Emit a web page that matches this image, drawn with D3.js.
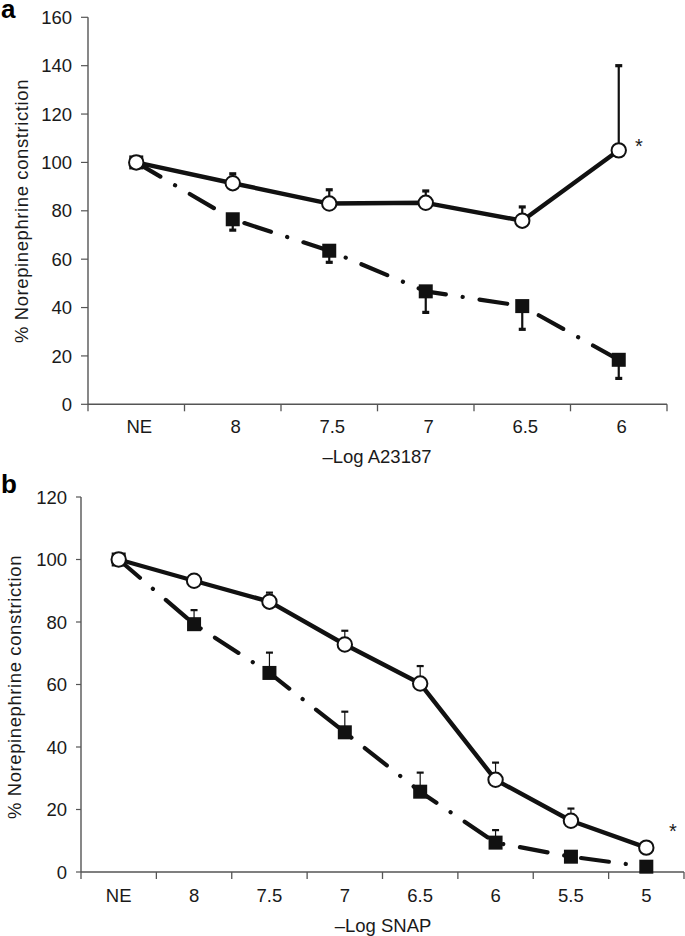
<!DOCTYPE html>
<html><head><meta charset="utf-8">
<script src="https://cdn.jsdelivr.net/npm/d3@7"></script>
<style>body{margin:0;background:#fff}svg{display:block}text{font-family:"Liberation Sans",Arial,sans-serif;fill:#1a1a1a}</style>
</head><body><svg id="c" width="685" height="936"></svg>
<script>
// Panel a data
const catsA = ["NE","8","7.5","7","6.5","6"];
const aCircle = [100, 91.4, 83, 83.3, 75.9, 105];
const aCircleErr = [null, 95.3, 88.7, 88.2, 81.6, 140];
const aSquare = [100, 76.5, 63.5, 46.7, 40.6, 18.4];
const aSquareErr = [null, 72, 58.7, 38, 31, 10.7];
const aTicks = [0,20,40,60,80,100,120,140,160];
// Panel b data
const catsB = ["NE","8","7.5","7","6.5","6","5.5","5"];
const bCircle = [100, 93.2, 86.5, 72.8, 60.3, 29.5, 16.4, 7.8];
const bCircleErr = [null, null, 89.4, 77.2, 65.9, 35, 20.3, null];
const bSquare = [100, 79.3, 63.7, 44.7, 25.7, 9.4, 4.9, 1.7];
const bSquareErr = [null, 83.8, 70.2, 51.3, 31.8, 13.4, null, null];
const bTicks = [0,20,40,60,80,100,120];

const svg = d3.select("#c");

function panel(o){
  const g = svg.append("g");
  const x = d3.scaleBand().domain(o.cats).range(o.xr).paddingInner(0).paddingOuter(0);
  const y = d3.scaleLinear().domain(o.yd).range(o.yr);
  const cx = c => x(c) + x.bandwidth()/2;
  const ax = "#555";
  // y axis
  g.append("line").attr("x1",o.xr[0]).attr("x2",o.xr[0]).attr("y1",o.yr[1]).attr("y2",o.yr[0])
    .attr("stroke",ax).attr("stroke-width",1.4);
  o.yticks.forEach(t=>{
    g.append("line").attr("x1",o.xr[0]-o.yTickLen).attr("x2",o.xr[0]).attr("y1",y(t)).attr("y2",y(t)).attr("stroke",ax).attr("stroke-width",1.2);
    g.append("text").attr("x",o.yLabelX).attr("y",y(t)).attr("dy","0.36em").attr("text-anchor","end")
      .attr("font-size",o.fs).text(t);
  });
  // x axis
  g.append("line").attr("x1",o.xr[0]).attr("x2",o.xr[1]).attr("y1",y(0)).attr("y2",y(0))
    .attr("stroke",ax).attr("stroke-width",1.4);
  const bounds = o.cats.map(c=>x(c)).concat([o.xr[1]]);
  bounds.forEach(b=>{
    g.append("line").attr("x1",b).attr("x2",b).attr("y1",y(0)).attr("y2",y(0)+o.xTickLen).attr("stroke",ax).attr("stroke-width",1.3);
  });
  o.cats.forEach(c=>{
    g.append("text").attr("x",cx(c)+o.xLabelDx).attr("y",o.xLabelY).attr("text-anchor","middle").attr("font-size",o.fs).text(c);
  });
  g.append("text").attr("x",o.titleX).attr("y",o.titleY).attr("text-anchor","middle").attr("font-size",o.fs).text(o.xTitle);
  g.append("text").attr("transform",`translate(${o.yTitleX},${o.yTitleY}) rotate(-90)`).attr("text-anchor","middle")
    .attr("font-size",o.fs).attr("letter-spacing",0.6).text("% Norepinephrine constriction");
  g.append("text").attr("x",1).attr("y",o.letterY).attr("font-size",26).attr("font-weight","bold").style("fill","#000").text(o.letter);

  const line = d3.line().x((d,i)=>cx(o.cats[i])).y(d=>y(d));
  // error bars
  const eb = (vals, errs, w, capW) => {
    errs.forEach((e,i)=>{
      if(e==null) return;
      g.append("line").attr("x1",cx(o.cats[i])).attr("x2",cx(o.cats[i])).attr("y1",y(vals[i])).attr("y2",y(e))
        .attr("stroke","#111").attr("stroke-width",w);
      g.append("line").attr("x1",cx(o.cats[i])-capW/2).attr("x2",cx(o.cats[i])+capW/2).attr("y1",y(e)).attr("y2",y(e))
        .attr("stroke","#111").attr("stroke-width",w+1);
    });
  };
  eb(o.square, o.squareErr, o.ebw, 7);
  eb(o.circle, o.circleErr, o.ebw, 7);
  // lines
  g.append("path").attr("d",line(o.square)).attr("fill","none").attr("stroke","#111").attr("stroke-width",4.2)
    .attr("stroke-linecap","round").attr("stroke-dasharray","28,17,0.1,17");
  g.append("path").attr("d",line(o.circle)).attr("fill","none").attr("stroke","#111").attr("stroke-width",4.4).attr("stroke-linejoin","round");
  // markers
  o.square.forEach((v,i)=>{
    g.append("rect").attr("x",cx(o.cats[i])-o.sq/2).attr("y",y(v)-o.sq/2).attr("width",o.sq).attr("height",o.sq).attr("fill","#111");
  });
  o.circle.forEach((v,i)=>{
    g.append("circle").attr("cx",cx(o.cats[i])).attr("cy",y(v)).attr("r",o.r).attr("fill","#fff").attr("stroke","#111").attr("stroke-width",2);
  });
  g.append("text").attr("x",o.star[0]).attr("y",o.star[1]).attr("font-size",20).attr("text-anchor","middle").text("*");
}

panel({cats:catsA, xr:[88,667], yd:[0,160], yr:[404.3,17.3], yticks:aTicks, yTickLen:7, yLabelX:72, fs:18.5,
  xTickLen:7, xLabelY:433, xLabelDx:3, xTitle:"\u2013Log A23187", titleX:377, titleY:463,
  yTitleX:28, yTitleY:211, letter:"a", letterY:18, circle:aCircle, circleErr:aCircleErr, square:aSquare, squareErr:aSquareErr,
  ebw:2.2, sq:14, r:7.2, star:[639,153]});

panel({cats:catsB, xr:[81,684], yd:[0,120], yr:[872,497], yticks:bTicks, yTickLen:5, yLabelX:67, fs:18.5,
  xTickLen:7, xLabelY:902, xLabelDx:0, xTitle:"\u2013Log SNAP", titleX:383, titleY:932,
  yTitleX:21, yTitleY:687, letter:"b", letterY:493, circle:bCircle, circleErr:bCircleErr, square:bSquare, squareErr:bSquareErr,
  ebw:1.2, sq:14, r:7.2, star:[673,838]});
</script></body></html>
